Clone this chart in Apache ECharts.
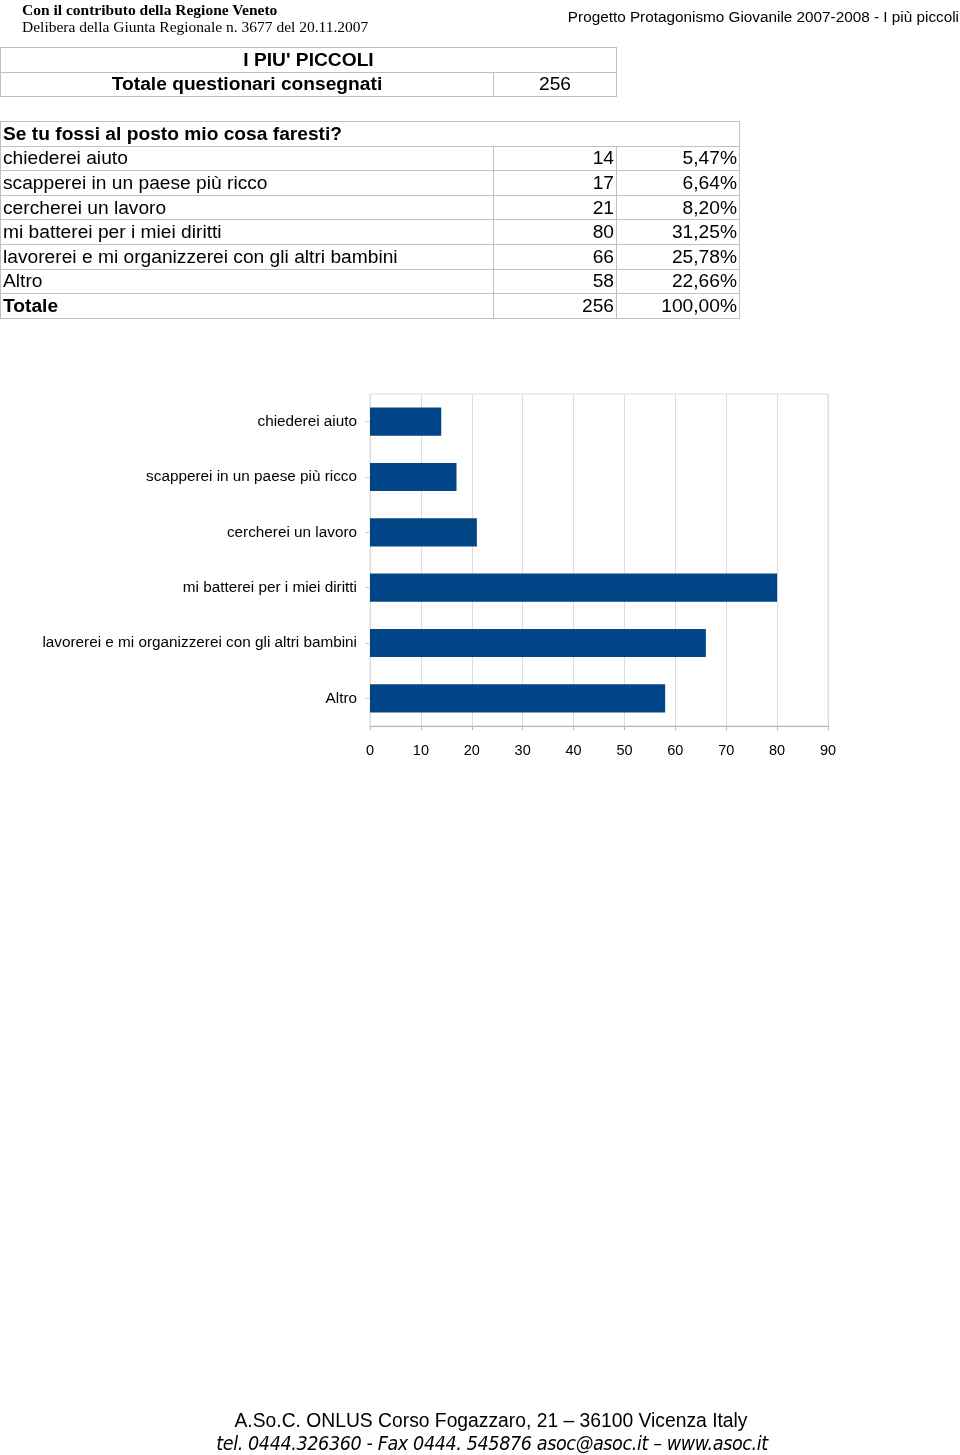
<!DOCTYPE html>
<html>
<head>
<meta charset="utf-8">
<script src="https://cdn.jsdelivr.net/npm/echarts@6/dist/echarts.min.js"></script>
<style>
  html, body { margin: 0; padding: 0; background: #fff; }
  body { width: 960px; height: 1455px; position: relative; overflow: hidden; font-family: "Liberation Sans", Arial, sans-serif; color: #000; }
  #chart { position: absolute; left: 0; top: 0; width: 960px; height: 1455px; }
  .abs { position: absolute; white-space: nowrap; }
  .serif { font-family: "Liberation Serif", "Times New Roman", serif; font-size: 15.5px; line-height: 17px; }
  table { position: absolute; border-collapse: collapse; font-size: 19.2px; table-layout: fixed; }
  td { border: 1px solid #c0c0c0; padding: 0 2px; height: 23.6px; line-height: 22px; white-space: nowrap; overflow: visible; }
  .b { font-weight: bold; }
  .c { text-align: center; }
  .r { text-align: right; }
</style>
</head>
<body>
<div id="chart"></div>
<div class="abs serif b" style="left:22px; top:1px;">Con il contributo della Regione Veneto</div>
<div class="abs serif" style="left:22px; top:18px;">Delibera della Giunta Regionale n. 3677 del 20.11.2007</div>
<div class="abs" id="proj" style="right:1px; top:8px; font-size:15.3px;">Progetto Protagonismo Giovanile 2007-2008 - I più piccoli</div>

<table id="t1" style="left:0; top:47px; width:616px;"></table>
<table id="t2" style="left:0; top:121px; width:739px;"></table>

<div class="abs" style="left:0; width:982px; text-align:center; top:1410px; font-size:19.3px;">A.So.C. ONLUS Corso Fogazzaro, 21 – 36100 Vicenza Italy</div>
<div class="abs" style="left:0; width:984px; text-align:center; top:1432px; font-size:19.6px; font-style:italic; font-family:'DejaVu Sans Condensed','DejaVu Sans',sans-serif; letter-spacing:-0.4px;">tel. 0444.326360 - Fax 0444. 545876 asoc@asoc.it – www.asoc.it</div>

<script>
// ---- data ----
const title1 = "I PIU' PICCOLI";
const totalLabel = "Totale questionari consegnati";
const totalCount = 256;
const question = "Se tu fossi al posto mio cosa faresti?";
const categories = [
  "chiederei aiuto",
  "scapperei in un paese più ricco",
  "cercherei un lavoro",
  "mi batterei per i miei diritti",
  "lavorerei e mi organizzerei con gli altri bambini",
  "Altro"
];
const counts = [14, 17, 21, 80, 66, 58];
const percents = ["5,47%", "6,64%", "8,20%", "31,25%", "25,78%", "22,66%"];
const totalRowLabel = "Totale";
const totalPercent = "100,00%";
const xTicks = [0, 10, 20, 30, 40, 50, 60, 70, 80, 90];

// ---- tables ----
const t1 = document.getElementById('t1');
t1.innerHTML =
  '<colgroup><col style="width:493px"><col style="width:123px"></colgroup>' +
  '<tr><td colspan="2" class="b c">' + title1 + '</td></tr>' +
  '<tr><td class="b c">' + totalLabel + '</td><td class="c">' + totalCount + '</td></tr>';

const t2 = document.getElementById('t2');
let html = '<colgroup><col style="width:493px"><col style="width:123px"><col style="width:123px"></colgroup>';
html += '<tr><td colspan="3" class="b">' + question + '</td></tr>';
categories.forEach((c, i) => {
  html += '<tr><td>' + c + '</td><td class="r">' + counts[i] + '</td><td class="r">' + percents[i] + '</td></tr>';
});
html += '<tr><td class="b">' + totalRowLabel + '</td><td class="r">' + totalCount + '</td><td class="r">' + totalPercent + '</td></tr>';
t2.innerHTML = html;

// ---- chart ----
const chart = echarts.init(document.getElementById('chart'), null, { renderer: 'canvas' });
chart.setOption({
  animation: false,
  grid: {
    left: 370, top: 394, width: 458, height: 332,
    show: true, borderColor: '#dcdcdc', borderWidth: 1,
    containLabel: false
  },
  xAxis: {
    type: 'value',
    min: xTicks[0], max: xTicks[xTicks.length - 1], interval: 10,
    axisLine: { show: true, lineStyle: { color: '#b3b3b3' } },
    axisTick: { show: true, length: 4, lineStyle: { color: '#b3b3b3' } },
    axisLabel: { color: '#000', fontSize: 14.5, fontFamily: 'Liberation Sans, Arial, sans-serif', margin: 17 },
    splitLine: { show: true, lineStyle: { color: '#dcdcdc' } }
  },
  yAxis: {
    type: 'category',
    inverse: true,
    data: categories,
    axisLine: { show: true, lineStyle: { color: '#dcdcdc' } },
    axisTick: { show: true, alignWithLabel: true, length: 5, lineStyle: { color: '#cfcfcf' } },
    axisLabel: { color: '#000', fontSize: 15.3, fontFamily: 'Liberation Sans, Arial, sans-serif', margin: 13 }
  },
  series: [{
    type: 'bar',
    data: counts,
    barCategoryGap: '49%',
    itemStyle: { color: '#004586' }
  }]
});
</script>
</body>
</html>
